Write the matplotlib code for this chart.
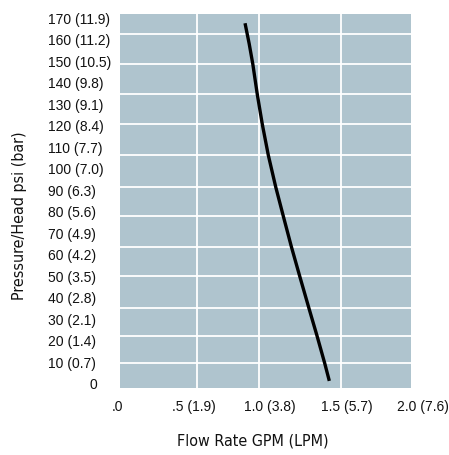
import matplotlib
matplotlib.use("Agg")
import matplotlib.pyplot as plt
import matplotlib.transforms as mtransforms

# flow curve: GPM vs psi
flow_gpm = [0.837, 0.864, 0.888, 0.917, 0.950, 0.989, 1.037, 1.087, 1.140, 1.194, 1.255, 1.308, 1.358, 1.388]
pressure_psi = [168.5, 159.0, 149.4, 135.4, 121.4, 107.1, 92.4, 78.7, 64.4, 50.8, 35.7, 22.8, 10.1, 1.9]

x_ticks = [0.0, 0.5, 1.0, 1.5, 2.0]
x_labels = [".0", ".5 (1.9)", "1.0 (3.8)", "1.5 (5.7)", "2.0 (7.6)"]
y_ticks = [170, 160, 150, 140, 130, 120, 110, 100, 90, 80, 70, 60, 50, 40, 30, 20, 10, 0]
y_labels = ["170 (11.9)", "160 (11.2)", "150 (10.5)", "140 (9.8)", "130 (9.1)", "120 (8.4)",
            "110 (7.7)", "100 (7.0)", "90 (6.3)", "80 (5.6)", "70 (4.9)", "60 (4.2)",
            "50 (3.5)", "40 (2.8)", "30 (2.1)", "20 (1.4)", "10 (0.7)", "0"]

# the grid in the original does not line up with the labels
grid_x = [0.523, 0.928, 1.464]
grid_y = [10.1, 22.8, 35.7, 50.8, 64.4, 78.7, 92.4, 107.1, 121.4, 135.4, 149.4, 163.5]

BG = "#afc4ce"
W, H = 449, 455

fig = plt.figure(figsize=(W / 100, H / 100), dpi=100)
ax = fig.add_axes([120 / W, (H - 388) / H, 291 / W, 374 / H])
ax.set_facecolor(BG)
for s in ax.spines.values():
    s.set_visible(False)

ax.set_xlim(0.0196, 1.922)
ax.set_ylim(-1.4, 172.8)
ax.set_xticks(grid_x)
ax.set_yticks(grid_y)
ax.tick_params(length=0, labelbottom=False, labelleft=False)
ax.grid(True, color="white", linewidth=1.3)
ax.set_axisbelow(True)

ax.plot(flow_gpm, pressure_psi, color="black", linewidth=2.4,
        solid_capstyle="butt", solid_joinstyle="round")

tick_font = dict(family="Liberation Sans", fontsize=10, color="#111111")

xt = mtransforms.blended_transform_factory(ax.transData, fig.transFigure)
for v, lab in zip(x_ticks, x_labels):
    ax.text(v, 1 - 407 / H, lab, transform=xt, ha="center", va="center", clip_on=False, **tick_font)

yt = mtransforms.blended_transform_factory(fig.transFigure, ax.transData)
for v, lab in zip(y_ticks, y_labels):
    x0 = 48 if lab != "0" else 90
    ax.text(x0 / W, v, lab, transform=yt, ha="left", va="center", clip_on=False, **tick_font)

label_font = dict(family="DejaVu Sans", fontstretch="condensed", fontsize=11.5, color="#111111")
fig.text(253 / W, 1 - 441 / H, "Flow Rate GPM (LPM)", ha="center", va="center", **label_font)
fig.text(20 / W, 1 - 216 / H, "Pressure/Head psi (bar)", ha="center", va="center",
         rotation=90, **label_font)

fig.savefig("out.png", dpi=100)
